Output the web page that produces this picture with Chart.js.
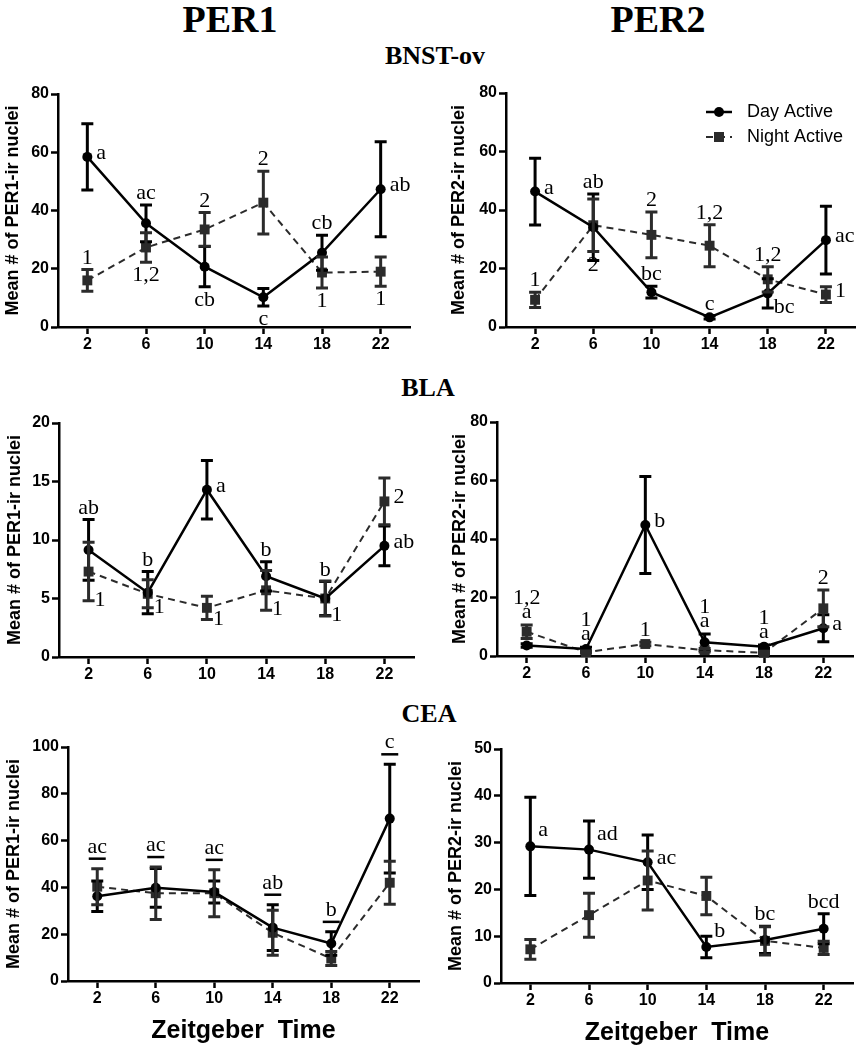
<!DOCTYPE html>
<html>
<head>
<meta charset="utf-8">
<script src="https://cdn.jsdelivr.net/npm/chart.js@4.4.1/dist/chart.umd.min.js"></script>
<style>
  body { margin: 0; background: #fff; }
  #page { position: relative; width: 864px; height: 1050px; overflow: hidden; background: #fff; }
  #page canvas { position: absolute; }
  .hd { position: absolute; font-family: "Liberation Serif", "Times New Roman", serif; font-weight: bold; line-height: 1; color: #000; transform: translateX(-50%); white-space: nowrap; }
  .big { font-size: 38px; }
  .sec { font-size: 26px; }
</style>
</head>
<body>
<div id="page">
  <div class="hd big" style="left:230px; top:0px;">PER1</div>
  <div class="hd big" style="left:658px; top:0px;">PER2</div>
  <div class="hd sec" style="left:435px; top:43px;">BNST-ov</div>
  <div class="hd sec" style="left:428px; top:375px;">BLA</div>
  <div class="hd sec" style="left:429px; top:701px;">CEA</div>

  <canvas id="bnstPer1" width="424" height="289" style="left:0px; top:74px;"></canvas>
  <canvas id="bnstPer2" width="418" height="290" style="left:446px; top:73px;"></canvas>
  <canvas id="blaPer1" width="422" height="290" style="left:2px; top:403px;"></canvas>
  <canvas id="blaPer2" width="417" height="290" style="left:447px; top:402px;"></canvas>
  <canvas id="ceaPer1" width="427" height="319" style="left:1px; top:727px;"></canvas>
  <canvas id="ceaPer2" width="421" height="319" style="left:443px; top:729px;"></canvas>
</div>

<script>
// --- DATA (Zeitgeber time points) ---
const ztPoints = [2, 6, 10, 14, 18, 22];
const seriesNames = ['Day Active', 'Night Active'];

// BNST-ov, PER1
const bnstPer1Day = [58.4, 35.6, 20.7, 10.2, 25.5, 47.3];
const bnstPer1DayErr = [11.4, 6.3, 6.9, 3.0, 6.0, 16.3];
const bnstPer1Night = [16.0, 27.3, 33.5, 42.7, 18.7, 19.0];
const bnstPer1NightErr = [3.7, 5.1, 5.8, 10.8, 5.3, 5.0];
const bnstPer1DayNotes = ['a', 'ac', 'cb', 'c', 'cb', 'ab'];
const bnstPer1NightNotes = ['1', '1,2', '2', '2', '1', '1'];

// BNST-ov, PER2
const bnstPer2Day = [46.3, 34.1, 11.9, 3.3, 11.5, 29.7];
const bnstPer2DayErr = [11.4, 11.4, 2.0, 0.6, 5.0, 11.6];
const bnstPer2Night = [9.3, 34.8, 31.5, 27.8, 16.3, 11.1];
const bnstPer2NightErr = [2.6, 9.0, 7.8, 7.2, 4.3, 2.7];
const bnstPer2DayNotes = ['a', 'ab', 'bc', 'c', 'bc', 'ac'];
const bnstPer2NightNotes = ['1', '2', '2', '1,2', '1,2', '1'];

// BLA, PER1
const blaPer1Day = [9.15, 5.5, 14.3, 6.9, 5.0, 9.5];
const blaPer1DayErr = [2.6, 1.8, 2.5, 1.25, 1.45, 1.7];
const blaPer1Night = [7.3, 5.4, 4.2, 5.7, 5.0, 13.3];
const blaPer1NightErr = [2.5, 1.2, 1.0, 1.7, 1.5, 2.0];
const blaPer1DayNotes = ['ab', 'b', 'a', 'b', 'b', 'ab'];
const blaPer1NightNotes = ['1', '1', '1', '1', '1', '2'];

// BLA, PER2
const blaPer2Day = [3.6, 2.4, 44.8, 4.7, 3.2, 9.5];
const blaPer2DayErr = [0.6, 0.6, 16.6, 2.8, 0.6, 4.6];
const blaPer2Night = [8.3, 1.3, 4.1, 2.0, 1.1, 16.3];
const blaPer2NightErr = [2.3, 0.4, 0.6, 0.6, 0.5, 6.3];
const blaPer2DayNotes = ['a', 'a', 'b', 'a', 'a', 'a'];
const blaPer2NightNotes = ['1,2', '1', '1', '1', '1', '2'];

// CEA, PER1
const ceaPer1Day = [36.2, 39.8, 38.0, 22.8, 16.0, 69.4];
const ceaPer1DayErr = [6.5, 8.3, 4.7, 9.8, 5.0, 23.2];
const ceaPer1Night = [40.3, 37.5, 37.5, 20.6, 9.6, 42.0];
const ceaPer1NightErr = [7.7, 11.2, 10.0, 9.6, 3.0, 9.2];
const ceaPer1Notes = ['ac', 'ac', 'ac', 'ab', 'b', 'c'];

// CEA, PER2
const ceaPer2Day = [29.2, 28.5, 25.8, 7.7, 9.2, 11.6];
const ceaPer2DayErr = [10.5, 6.1, 5.8, 2.3, 2.9, 3.2];
const ceaPer2Night = [7.2, 14.5, 21.9, 18.6, 9.0, 7.5];
const ceaPer2NightErr = [2.1, 4.7, 6.3, 4.0, 3.0, 1.4];
const ceaPer2DayNotes = ['a', 'ad', 'ac', 'b', 'bc', 'bcd'];

Chart.defaults.font.family = '"Liberation Sans", Arial, sans-serif';
Chart.defaults.color = '#000';

const DAY_COLOR = '#000000';
const NIGHT_COLOR = '#2b2b2b';

// --- PLUGIN: vertical error bars with caps ---
const errorBarsPlugin = {
  id: 'errorBars',
  afterDatasetsDraw(chart) {
    const { ctx, scales: { x, y } } = chart;
    chart.data.datasets.forEach(ds => {
      ctx.save();
      ctx.strokeStyle = ds.borderColor;
      ctx.lineWidth = 3;
      ctx.setLineDash([]);
      ds.data.forEach((pt, i) => {
        const px = x.getPixelForValue(pt.x);
        const top = y.getPixelForValue(pt.y + ds.errors[i]);
        const bot = y.getPixelForValue(pt.y - ds.errors[i]);
        ctx.beginPath();
        ctx.moveTo(px, top); ctx.lineTo(px, bot);
        ctx.moveTo(px - 6, top); ctx.lineTo(px + 6, top);
        ctx.moveTo(px - 6, bot); ctx.lineTo(px + 6, bot);
        ctx.stroke();
      });
      ctx.restore();
    });
  }
};

// --- PLUGIN: significance letters next to points ---
const notesPlugin = {
  id: 'notes',
  afterDraw(chart) {
    const { ctx, scales: { x, y } } = chart;
    const sets = chart.data.datasets;
    const stack = {};
    ctx.save();
    ctx.font = '22px "Liberation Serif", "Times New Roman", serif';
    ctx.fillStyle = '#000';
    ctx.textBaseline = 'alphabetic';
    sets.forEach(ds => {
      (ds.notes || []).forEach((txt, i) => {
        if (!txt) return;
        const v = ds.data[i].y, e = ds.errors[i];
        const px = x.getPixelForValue(ds.data[i].x);
        const py = y.getPixelForValue(v);
        const top = y.getPixelForValue(v + e);
        const bot = y.getPixelForValue(v - e);
        const maxTop = Math.min(...sets.map(d => y.getPixelForValue(d.data[i].y + d.errors[i])));
        const place = ds.notePlace[i];
        let tx = px, ty = py, align = 'center';
        if (place === 'r') { align = 'left'; tx = px + 9; ty = py + 2; }
        else if (place === 'ru') { align = 'left'; tx = px + 8; ty = py - 10; }
        else if (place === 'rb') { align = 'left'; tx = px + 6; ty = bot + 5; }
        else if (place === 't') { ty = top - 6; }
        else if (place === 'b') { ty = bot + 19; }
        else if (place === 'T') {
          const k = stack[i] || 0;
          stack[i] = k + 1;
          ty = maxTop - 7 - 14 * k;
        } else if (place === 'bar') {
          const barY = maxTop - 10;
          ctx.fillRect(px - 8.5, barY - 1.25, 17, 2.5);
          ty = barY - 6;
        }
        ctx.textAlign = align;
        ctx.fillText(txt, tx, ty);
      });
    });
    ctx.restore();
  }
};

// --- PLUGIN: legend with line + marker samples (PER2 BNST-ov only) ---
const keyPlugin = {
  id: 'keyBox',
  afterDraw(chart, args, opts) {
    if (!opts.show) return;
    const { ctx, chartArea } = chart;
    const x0 = chartArea.left + 200;
    chart.data.datasets.forEach((ds, k) => {
      const yy = chartArea.top + 19 + k * 25;
      ctx.save();
      ctx.strokeStyle = ds.borderColor;
      ctx.lineWidth = ds.borderWidth;
      ctx.setLineDash(ds.borderDash || []);
      ctx.beginPath();
      ctx.moveTo(x0, yy); ctx.lineTo(x0 + 26, yy);
      ctx.stroke();
      ctx.setLineDash([]);
      ctx.fillStyle = ds.pointBackgroundColor;
      if (ds.pointStyle === 'rect') {
        ctx.fillRect(x0 + 8, yy - 5, 10, 10);
      } else {
        ctx.beginPath(); ctx.arc(x0 + 13, yy, 5, 0, Math.PI * 2); ctx.fill();
      }
      ctx.fillStyle = '#000';
      ctx.font = '18px "Liberation Sans", Arial, sans-serif';
      ctx.textBaseline = 'middle';
      ctx.textAlign = 'left';
      ctx.fillText(ds.label, x0 + 41, yy);
      ctx.restore();
    });
  }
};

function toPoints(vals) {
  return ztPoints.map((t, i) => ({ x: t, y: vals[i] }));
}

function makePanel(id, p) {
  const datasets = [
    {
      label: seriesNames[0], data: toPoints(p.day), errors: p.dayErr,
      notes: p.dayNotes, notePlace: p.dayPlace,
      borderColor: DAY_COLOR, borderWidth: 2.5, tension: 0,
      pointStyle: 'circle', pointRadius: 5, pointBackgroundColor: DAY_COLOR, pointBorderWidth: 0,
      clip: false
    },
    {
      label: seriesNames[1], data: toPoints(p.night), errors: p.nightErr,
      notes: p.nightNotes, notePlace: p.nightPlace,
      borderColor: NIGHT_COLOR, borderWidth: 2, borderDash: [7, 5], tension: 0,
      pointStyle: 'rect', pointRadius: 7, pointBackgroundColor: NIGHT_COLOR, pointBorderWidth: 0,
      clip: false
    }
  ];
  const tickFont = { size: 16, weight: 'bold' };
  return new Chart(document.getElementById(id), {
    type: 'line',
    data: { datasets },
    options: {
      responsive: false,
      animation: false,
      devicePixelRatio: 1,
      layout: { padding: { top: 20, right: p.padRight, bottom: 0, left: 0 } },
      plugins: {
        legend: { display: false },
        tooltip: { enabled: false },
        keyBox: { show: !!p.key }
      },
      scales: {
        x: {
          type: 'linear', min: 0, max: 24,
          afterBuildTicks: s => { s.ticks = ztPoints.map(v => ({ value: v })); },
          afterFit: s => { s.height = p.xh; },
          grid: { drawOnChartArea: false, tickLength: 7, tickWidth: 2.5, tickColor: '#000' },
          border: { color: '#000', width: 2.5 },
          ticks: { color: '#000', font: tickFont, padding: 1, maxRotation: 0 },
          title: {
            display: !!p.xTitle, text: p.xTitle || '', color: '#000',
            font: { size: 25, weight: 'bold' }, padding: { top: 0, bottom: 0 }
          }
        },
        y: {
          min: 0, max: p.yMax,
          afterFit: s => { s.width = p.yw; },
          grid: { drawOnChartArea: false, tickLength: 7, tickWidth: 2.5, tickColor: '#000' },
          border: { color: '#000', width: 2.5 },
          ticks: { stepSize: p.yStep, color: '#000', font: tickFont, padding: 2 },
          title: {
            display: true, text: p.yTitle, color: '#000',
            font: { size: 18, weight: 'bold' }, padding: { top: 2, bottom: 0 }
          }
        }
      }
    },
    plugins: [errorBarsPlugin, notesPlugin, keyPlugin]
  });
}

makePanel('bnstPer1', {
  day: bnstPer1Day, dayErr: bnstPer1DayErr, night: bnstPer1Night, nightErr: bnstPer1NightErr,
  dayNotes: bnstPer1DayNotes, dayPlace: ['r', 't', 'b', 'b', 't', 'r'],
  nightNotes: bnstPer1NightNotes, nightPlace: ['t', 'b', 't', 't', 'b', 'b'],
  yMax: 80, yStep: 20, yTitle: 'Mean # of PER1-ir nuclei', yw: 58, xh: 36, padRight: 14
});

makePanel('bnstPer2', {
  day: bnstPer2Day, dayErr: bnstPer2DayErr, night: bnstPer2Night, nightErr: bnstPer2NightErr,
  dayNotes: bnstPer2DayNotes, dayPlace: ['r', 't', 't', 't', 'rb', 'r'],
  nightNotes: bnstPer2NightNotes, nightPlace: ['t', 'b', 't', 't', 't', 'r'],
  yMax: 80, yStep: 20, yTitle: 'Mean # of PER2-ir nuclei', yw: 60, xh: 36, padRight: 9, key: true
});

makePanel('blaPer1', {
  day: blaPer1Day, dayErr: blaPer1DayErr, night: blaPer1Night, nightErr: blaPer1NightErr,
  dayNotes: blaPer1DayNotes, dayPlace: ['t', 't', 'r', 't', 't', 'r'],
  nightNotes: blaPer1NightNotes, nightPlace: ['rb', 'rb', 'rb', 'rb', 'rb', 'r'],
  yMax: 20, yStep: 5, yTitle: 'Mean # of PER1-ir nuclei', yw: 57, xh: 36, padRight: 10
});

makePanel('blaPer2', {
  day: blaPer2Day, dayErr: blaPer2DayErr, night: blaPer2Night, nightErr: blaPer2NightErr,
  dayNotes: blaPer2DayNotes, dayPlace: ['T', 'T', 'r', 'T', 'T', 'r'],
  nightNotes: blaPer2NightNotes, nightPlace: ['T', 'T', 't', 'T', 'T', 't'],
  yMax: 80, yStep: 20, yTitle: 'Mean # of PER2-ir nuclei', yw: 50, xh: 36, padRight: 11
});

makePanel('ceaPer1', {
  day: ceaPer1Day, dayErr: ceaPer1DayErr, night: ceaPer1Night, nightErr: ceaPer1NightErr,
  dayNotes: ceaPer1Notes, dayPlace: ['bar', 'bar', 'bar', 'bar', 'bar', 'bar'],
  yMax: 100, yStep: 20, yTitle: 'Mean # of PER1-ir nuclei', yw: 67, xh: 65, padRight: 9,
  xTitle: 'Zeitgeber  Time'
});

makePanel('ceaPer2', {
  day: ceaPer2Day, dayErr: ceaPer2DayErr, night: ceaPer2Night, nightErr: ceaPer2NightErr,
  dayNotes: ceaPer2DayNotes, dayPlace: ['ru', 'ru', 'r', 'ru', 't', 't'],
  yMax: 50, yStep: 10, yTitle: 'Mean # of PER2-ir nuclei', yw: 58, xh: 65, padRight: 11,
  xTitle: 'Zeitgeber  Time'
});
</script>
</body>
</html>
